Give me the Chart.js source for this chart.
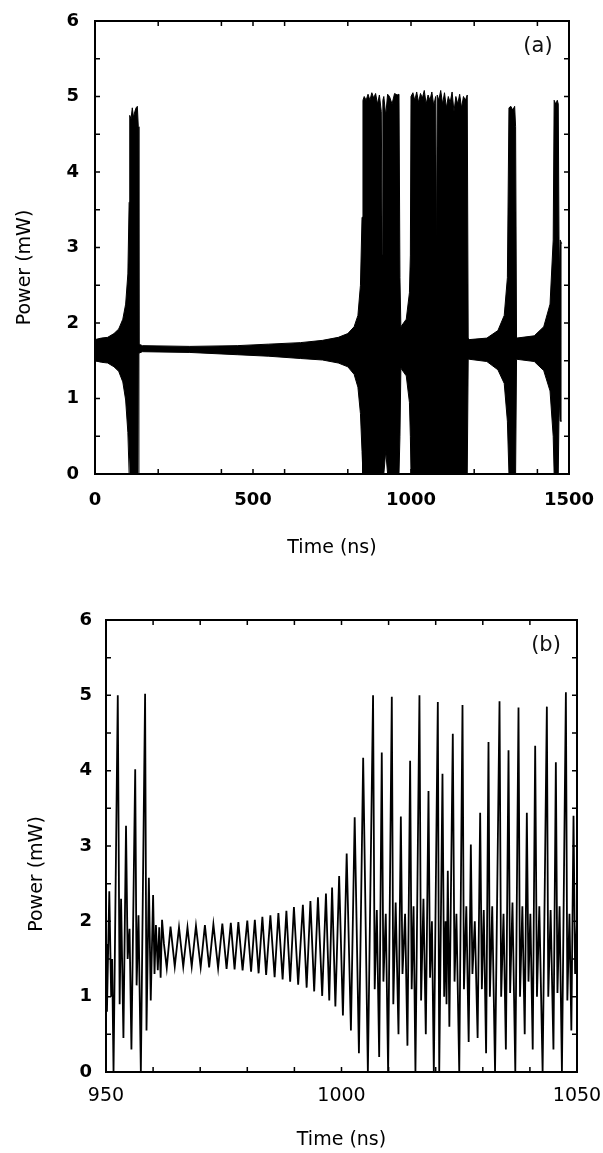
<!DOCTYPE html>
<html>
<head>
<meta charset="utf-8">
<script src="https://cdn.jsdelivr.net/npm/chart.js@4.4.0/dist/chart.umd.min.js"></script>
<style>
  body { margin: 0; background: #fff; width: 603px; height: 1153px; overflow: hidden; }
  .box { position: absolute; left: 0; width: 603px; }
  #boxA { top: 0; height: 576px; }
  #boxB { top: 576px; height: 577px; }
</style>
</head>
<body>
<div class="box" id="boxA"><canvas id="chartA" width="603" height="576"></canvas></div>
<div class="box" id="boxB"><canvas id="chartB" width="603" height="577"></canvas></div>
<script>
// PANEL (a): envelope of the fast oscillation
const timeA = [0, 20, 40, 60, 75, 88, 97, 104, 108, 110, 114, 118, 122, 126, 130, 134, 137, 139,
  150, 300, 450, 550, 650, 720, 770, 800, 820, 832, 840, 845, 848,
  852, 858, 864, 870, 876, 882, 888, 894, 900, 906, 909, 911, 914, 920, 926, 932, 940, 948, 956, 962, 965,
  968, 985, 995, 998, 1000,
  1006, 1012, 1018, 1024, 1030, 1036, 1042, 1048, 1054, 1060, 1066, 1072, 1078, 1081, 1083, 1088, 1094, 1100,
  1106, 1112, 1118, 1124, 1130, 1136, 1142, 1148, 1154, 1160, 1166, 1172, 1178, 1181,
  1184, 1240, 1275, 1295, 1305, 1310, 1316, 1322, 1328, 1331, 1334,
  1390, 1420, 1440, 1450, 1453, 1458, 1463, 1466, 1469, 1472, 1477];
const upperA = [1.78, 1.80, 1.81, 1.86, 1.92, 2.05, 2.25, 2.65, 3.6, 4.75, 4.70, 4.85, 4.72, 4.80, 4.85, 4.87, 4.6, 1.72,
  1.70, 1.69, 1.70, 1.72, 1.74, 1.77, 1.81, 1.86, 1.95, 2.10, 2.50, 3.40, 4.95,
  5.00, 4.95, 5.03, 4.95, 5.05, 4.98, 5.04, 4.90, 5.02, 4.80, 2.90, 4.95, 5.00, 4.75, 5.03, 5.00, 4.90, 5.04, 5.02, 5.03, 2.60,
  1.95, 2.05, 2.40, 2.90, 5.00,
  5.05, 4.95, 5.06, 4.92, 5.04, 4.98, 5.08, 4.90, 5.02, 4.95, 5.06, 4.88, 5.00, 2.80, 5.02, 4.95, 5.08, 4.90,
  5.05, 4.85, 5.00, 4.92, 5.06, 4.80, 5.00, 4.90, 5.03, 4.85, 5.00, 4.95, 5.02, 1.80,
  1.78, 1.80, 1.90, 2.10, 2.60, 4.85, 4.87, 4.82, 4.87, 4.6, 1.80,
  1.83, 1.95, 2.25, 3.10, 4.95, 4.90, 4.95, 4.90, 2.60, 3.10, 3.05];
const lowerA = [1.50, 1.48, 1.47, 1.42, 1.36, 1.22, 0.98, 0.55, 0, 0, 0, 0, 0, 0, 0, 0, 0, 1.60,
  1.62, 1.61, 1.58, 1.56, 1.53, 1.51, 1.47, 1.42, 1.32, 1.15, 0.80, 0.30, 0,
  0, 0, 0, 0, 0, 0, 0, 0, 0, 0, 0, 0, 0, 0.30, 0, 0, 0, 0, 0, 0, 0.50,
  1.40, 1.30, 0.95, 0.50, 0,
  0, 0, 0, 0, 0, 0, 0, 0, 0, 0, 0, 0, 0, 0, 0, 0, 0, 0,
  0, 0, 0, 0, 0, 0, 0, 0, 0, 0, 0, 0, 0, 1.52,
  1.52, 1.49, 1.38, 1.20, 0.70, 0, 0, 0, 0, 0, 1.52,
  1.49, 1.37, 1.10, 0.50, 0, 0, 0, 0, 1.00, 0.70, 0.70];

// PANEL (b): peaks and troughs of the trace
const timeB = [950.0, 950.2, 950.7, 951.1, 951.3, 951.6, 952.5, 952.9, 953.2, 953.7, 954.25, 954.6, 955.0, 955.4,
  956.2, 956.5, 956.9, 957.4, 958.3, 958.6, 959.1, 959.5, 960.0, 960.3, 960.6, 961.0, 961.3, 961.6, 961.9, 962.3,
  962.9, 963.7, 964.6, 965.5, 966.4, 967.3, 968.2, 969.1, 970.1, 971.0, 971.9, 972.8, 973.8, 974.7, 975.6, 976.5,
  977.3, 978.1, 979.0, 980.0, 980.8, 981.6, 982.4, 983.2, 984.0, 984.9, 985.8, 986.6, 987.5, 988.3, 989.1, 989.9,
  990.8, 991.8, 992.6, 993.4, 994.2, 995.0, 995.9, 996.7, 997.4, 998.0, 998.7, 999.5, 1000.3, 1001.1, 1002.0, 1002.8,
  1003.7, 1004.6, 1005.6, 1006.7,
  1007.05, 1007.5, 1008.0, 1008.55, 1008.9, 1009.4, 1009.9, 1010.68, 1011.0, 1011.5, 1012.1, 1012.6, 1012.95, 1013.5,
  1014.0, 1014.57, 1014.9, 1015.3, 1015.7, 1016.55, 1016.9, 1017.4, 1017.9, 1018.47, 1018.8, 1019.2, 1019.6, 1020.45,
  1020.75, 1021.44, 1021.8, 1022.1, 1022.3, 1022.57, 1022.9, 1023.63, 1024.0, 1024.4, 1025.0, 1025.69, 1026.0, 1026.5,
  1027.0, 1027.46, 1027.8, 1028.3, 1028.9, 1029.44, 1029.8, 1030.2, 1030.7, 1031.21, 1031.5, 1032.0, 1032.6, 1033.55,
  1033.9, 1034.4, 1034.9, 1035.46, 1035.8, 1036.3, 1036.9, 1037.58, 1037.9, 1038.4, 1038.9, 1039.35, 1039.7, 1040.1,
  1040.6, 1041.12, 1041.5, 1042.0, 1042.7, 1043.6, 1043.9, 1044.4, 1045.0, 1045.51, 1045.85, 1046.3, 1046.8, 1047.64,
  1047.95, 1048.4, 1048.8, 1049.26, 1049.6, 1050.0];
const powerB = [1.7, 0.8, 2.4, 1.0, 1.5, 0.0, 5.0, 0.9, 2.3, 0.45, 3.27, 1.5, 1.9, 0.3,
  4.02, 1.15, 2.08, 0.0, 5.02, 0.55, 2.58, 0.95, 2.35, 1.3, 1.95, 1.35, 1.92, 1.25, 2.02, 1.7,
  1.38, 1.93, 1.40, 1.92, 1.40, 1.92, 1.40, 1.94, 1.39, 1.95, 1.39, 1.96, 1.38, 1.97, 1.37, 1.98,
  1.36, 1.99, 1.35, 2.01, 1.33, 2.02, 1.31, 2.06, 1.29, 2.08, 1.26, 2.11, 1.23, 2.14, 1.20, 2.19,
  1.16, 2.22, 1.12, 2.27, 1.07, 2.32, 1.01, 2.37, 0.95, 2.45, 0.87, 2.60, 0.75, 2.90, 0.55, 3.38,
  0.25, 4.17, 0.0, 5.0,
  1.1, 2.15, 0.2, 4.24, 1.2, 2.1, 0.0, 4.98, 0.9, 2.25, 0.5, 3.39, 1.3, 2.1,
  0.35, 4.13, 1.1, 2.2, 0.0, 5.0, 0.95, 2.3, 0.5, 3.73, 1.25, 2.0, 0.0, 4.91,
  0.0, 3.96, 1.0, 2.0, 0.9, 2.67, 0.6, 4.49, 1.2, 2.1, 0.0, 4.87, 1.1, 2.2,
  0.4, 3.02, 1.3, 2.0, 0.45, 3.44, 1.1, 2.15, 0.25, 4.38, 1.0, 2.2, 0.0, 4.92,
  1.0, 2.1, 0.3, 4.27, 1.05, 2.25, 0.0, 4.84, 1.0, 2.2, 0.5, 3.44, 1.2, 2.1,
  0.3, 4.33, 1.0, 2.2, 0.0, 4.85, 1.0, 2.15, 0.3, 4.11, 1.05, 2.2, 0.0, 5.04,
  0.95, 2.1, 0.55, 3.4, 1.3, 2.0];

// AXES
const yMajor = [0, 1, 2, 3, 4, 5, 6];
const yMinor = [0.5, 1.5, 2.5, 3.5, 4.5, 5.5];
const xTicksA = [0, 200, 400, 500, 600, 800, 1000, 1200, 1400, 1500];
const xTicksB = [950, 960, 970, 980, 990, 1000, 1010, 1020, 1030, 1040, 1050];

const FONT = "'DejaVu Sans', sans-serif";

function pts(xs, ys) {
  return xs.map((x, i) => ({ x: x, y: ys[i] }));
}

// inward ticks on all four sides, frame, panel label and y title
const frame = {
  id: "frame",
  afterDraw(chart, args, o) {
    const { ctx, chartArea: a, scales: { x, y } } = chart;
    const len = 5;
    ctx.save();
    ctx.strokeStyle = "#000";
    ctx.lineWidth = 1.5;
    ctx.beginPath();
    o.xTicks.forEach(v => {
      const px = x.getPixelForValue(v);
      ctx.moveTo(px, a.bottom); ctx.lineTo(px, a.bottom - len);
      ctx.moveTo(px, a.top); ctx.lineTo(px, a.top + len);
    });
    yMajor.concat(yMinor).forEach(v => {
      const py = y.getPixelForValue(v);
      ctx.moveTo(a.left, py); ctx.lineTo(a.left + len, py);
      ctx.moveTo(a.right, py); ctx.lineTo(a.right - len, py);
    });
    ctx.stroke();
    ctx.lineWidth = 2;
    ctx.strokeRect(a.left, a.top, a.right - a.left, a.bottom - a.top);

    ctx.fillStyle = "#111";
    ctx.font = "21px " + FONT;
    ctx.textAlign = "center";
    ctx.textBaseline = "middle";
    ctx.fillText(o.label, a.right - 31, a.top + 26);

    ctx.fillStyle = "#000";
    ctx.font = "19px " + FONT;
    ctx.translate(o.yTitleX, (a.top + a.bottom) / 2 + o.yTitleShift);
    ctx.rotate(-Math.PI / 2);
    ctx.fillText("Power (mW)", 0, 0);
    ctx.restore();
  }
};

function makeOptions(xMin, xMax, xStep, area, h, tickPad, titlePad, xFont) {
  return {
    responsive: false,
    animation: false,
    events: [],
    layout: { padding: { left: 0, top: area.top, right: 603 - area.right, bottom: 0 } },
    plugins: { legend: { display: false }, tooltip: { enabled: false } },
    scales: {
      x: {
        type: "linear", min: xMin, max: xMax,
        grid: { display: false, drawTicks: false },
        border: { display: false },
        ticks: { stepSize: xStep, padding: tickPad.x, color: "#000", font: xFont,
          callback: v => String(v) },
        title: { display: true, text: "Time (ns)", color: "#000", font: { family: FONT, size: 19 }, padding: { top: 0, bottom: titlePad } },
        afterFit: s => {
          s.height = h - area.bottom;
          s.paddingLeft = 0; s.paddingRight = 0;
        }
      },
      y: {
        type: "linear", min: 0, max: 6,
        grid: { display: false, drawTicks: false },
        border: { display: false },
        ticks: { stepSize: 1, padding: tickPad.y, color: "#000", font: { family: FONT, size: 18, weight: "bold" },
          callback: v => String(v) },
        afterFit: s => {
          s.width = area.left;
          s.paddingTop = 0; s.paddingBottom = 0;
        }
      }
    }
  };
}

// CHART (a)
const optA = makeOptions(0, 1500, 500, { left: 95, right: 569, top: 21, bottom: 474 }, 576, { x: 16, y: 16 }, 17,
  { family: FONT, size: 18, weight: "bold" });
optA.plugins.frame = { xTicks: xTicksA, label: "(a)", yTitleX: 25, yTitleShift: 20 };
new Chart(document.getElementById("chartA"), {
  type: "line",
  data: {
    datasets: [
      { data: pts(timeA, upperA), borderColor: "#000", backgroundColor: "#000", borderWidth: 1, pointRadius: 0, fill: "+1", tension: 0 },
      { data: pts(timeA, lowerA), borderColor: "#000", borderWidth: 1, pointRadius: 0, fill: false, tension: 0 }
    ]
  },
  options: optA,
  plugins: [frame]
});

// CHART (b)
const optB = makeOptions(950, 1050, 50, { left: 106, right: 577, top: 44, bottom: 496 }, 577, { x: 13, y: 14 }, 2,
  { family: FONT, size: 19 });
optB.plugins.frame = { xTicks: xTicksB, label: "(b)", yTitleX: 37, yTitleShift: 28 };
new Chart(document.getElementById("chartB"), {
  type: "line",
  data: {
    datasets: [
      { data: pts(timeB, powerB), borderColor: "#000", borderWidth: 1.8, pointRadius: 0, fill: false, tension: 0 }
    ]
  },
  options: optB,
  plugins: [frame]
});
</script>
</body>
</html>
